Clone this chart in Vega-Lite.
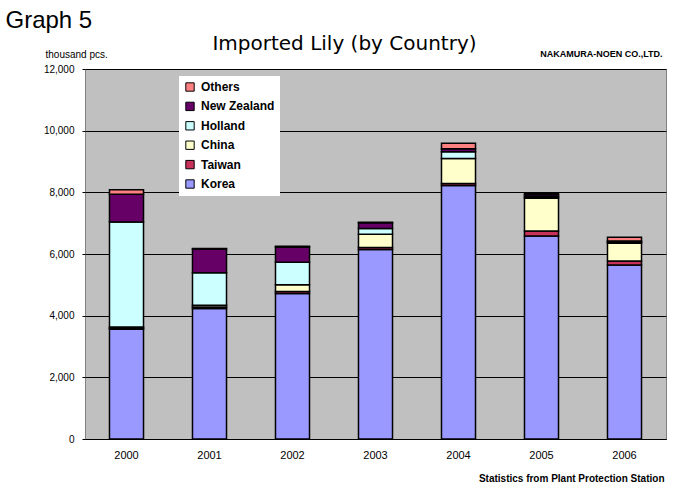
{
  "$schema": "https://vega.github.io/schema/vega-lite/v6.json",
  "width": 581,
  "height": 370,
  "autosize": {"type": "none"},
  "padding": {"left": 85, "top": 69, "right": 34, "bottom": 57},
  "background": "white",
  "config": {
    "font": "Liberation Sans",
    "view": {"fill": "#c0c0c0", "stroke": "#808080", "strokeWidth": 1}
  },
  "title": {
    "text": "Imported Lily (by Country)",
    "anchor": "middle",
    "frame": "group",
    "dx": -31,
    "dy": 62,
    "offset": 16,
    "font": "DejaVu Sans",
    "fontSize": 20,
    "fontWeight": "normal",
    "color": "black"
  },
  "data": {
    "values": [
      {"year": "2000", "country": "Korea", "rank": 1, "value": 3560},
      {"year": "2000", "country": "Taiwan", "rank": 2, "value": 30},
      {"year": "2000", "country": "China", "rank": 3, "value": 40},
      {"year": "2000", "country": "Holland", "rank": 4, "value": 3410},
      {"year": "2000", "country": "New Zealand", "rank": 5, "value": 900},
      {"year": "2000", "country": "Others", "rank": 6, "value": 140},
      {"year": "2001", "country": "Korea", "rank": 1, "value": 4230},
      {"year": "2001", "country": "Taiwan", "rank": 2, "value": 50},
      {"year": "2001", "country": "China", "rank": 3, "value": 60},
      {"year": "2001", "country": "Holland", "rank": 4, "value": 1050},
      {"year": "2001", "country": "New Zealand", "rank": 5, "value": 770},
      {"year": "2001", "country": "Others", "rank": 6, "value": 20},
      {"year": "2002", "country": "Korea", "rank": 1, "value": 4720},
      {"year": "2002", "country": "Taiwan", "rank": 2, "value": 60},
      {"year": "2002", "country": "China", "rank": 3, "value": 220},
      {"year": "2002", "country": "Holland", "rank": 4, "value": 730},
      {"year": "2002", "country": "New Zealand", "rank": 5, "value": 500},
      {"year": "2002", "country": "Others", "rank": 6, "value": 20},
      {"year": "2003", "country": "Korea", "rank": 1, "value": 6150},
      {"year": "2003", "country": "Taiwan", "rank": 2, "value": 60},
      {"year": "2003", "country": "China", "rank": 3, "value": 430},
      {"year": "2003", "country": "Holland", "rank": 4, "value": 190},
      {"year": "2003", "country": "New Zealand", "rank": 5, "value": 180},
      {"year": "2003", "country": "Others", "rank": 6, "value": 20},
      {"year": "2004", "country": "Korea", "rank": 1, "value": 8220},
      {"year": "2004", "country": "Taiwan", "rank": 2, "value": 70},
      {"year": "2004", "country": "China", "rank": 3, "value": 810},
      {"year": "2004", "country": "Holland", "rank": 4, "value": 220},
      {"year": "2004", "country": "New Zealand", "rank": 5, "value": 90},
      {"year": "2004", "country": "Others", "rank": 6, "value": 180},
      {"year": "2005", "country": "Korea", "rank": 1, "value": 6580},
      {"year": "2005", "country": "Taiwan", "rank": 2, "value": 170},
      {"year": "2005", "country": "China", "rank": 3, "value": 1060},
      {"year": "2005", "country": "Holland", "rank": 4, "value": 50},
      {"year": "2005", "country": "New Zealand", "rank": 5, "value": 60},
      {"year": "2005", "country": "Others", "rank": 6, "value": 50},
      {"year": "2006", "country": "Korea", "rank": 1, "value": 5640},
      {"year": "2006", "country": "Taiwan", "rank": 2, "value": 130},
      {"year": "2006", "country": "China", "rank": 3, "value": 580},
      {"year": "2006", "country": "Holland", "rank": 4, "value": 30},
      {"year": "2006", "country": "New Zealand", "rank": 5, "value": 40},
      {"year": "2006", "country": "Others", "rank": 6, "value": 120}
    ]
  },
  "layer": [
    {
      "mark": {"type": "bar", "stroke": "black", "strokeWidth": 1.5},
      "encoding": {
        "x": {
          "field": "year",
          "type": "nominal",
          "scale": {"paddingInner": 0.59, "paddingOuter": 0.295},
          "axis": {
            "orient": "bottom",
            "labelAngle": 0,
            "labelFontSize": 11,
            "labelColor": "black",
            "labelPadding": 14,
            "bandPosition": 0,
            "tickSize": -4,
            "tickColor": "black",
            "domainColor": "black",
            "title": "Statistics from Plant Protection Station",
            "titleFontSize": 10,
            "titleFontWeight": "bold",
            "titleColor": "black",
            "titleAlign": "right",
            "titleAnchor": null,
            "titleX": 579,
            "titleY": 42,
            "titleBaseline": "alphabetic"
          }
        },
        "y": {
          "field": "value",
          "type": "quantitative",
          "stack": "zero",
          "scale": {"domain": [0, 12000], "nice": false},
          "axis": {
            "values": [0, 2000, 4000, 6000, 8000, 10000, 12000],
            "format": ",d",
            "labelFontSize": 10,
            "labelColor": "black",
            "labelPadding": 8,
            "ticks": true,
            "tickSize": 3,
            "tickColor": "black",
            "domain": false,
            "grid": true,
            "gridColor": "black",
            "gridWidth": 1,
            "title": "thousand pcs.",
            "titleAngle": 0,
            "titleAlign": "left",
            "titleBaseline": "alphabetic",
            "titleX": -40,
            "titleY": -12,
            "titleFontSize": 10,
            "titleFontWeight": "normal",
            "titleColor": "black"
          }
        },
        "color": {
          "field": "country",
          "type": "nominal",
          "scale": {
            "domain": ["Others", "New Zealand", "Holland", "China", "Taiwan", "Korea"],
            "range": ["#ff8080", "#660066", "#ccffff", "#ffffcc", "#c8305a", "#9999ff"]
          },
          "legend": {
            "orient": "none",
            "legendX": 94,
            "legendY": 7,
            "title": null,
            "fillColor": "white",
            "padding": 5,
            "symbolType": "square",
            "symbolSize": 70,
            "symbolStrokeColor": "black",
            "symbolStrokeWidth": 1,
            "labelFontSize": 12,
            "labelFontWeight": "bold",
            "labelColor": "black",
            "rowPadding": 5.4,
            "labelOffset": 5
          }
        },
        "order": {"field": "rank", "type": "quantitative", "sort": "ascending"}
      }
    },
    {
      "mark": {"type": "point", "opacity": 0},
      "encoding": {
        "x": {
          "field": "year",
          "type": "nominal",
          "axis": {
            "orient": "top",
            "labels": false,
            "ticks": false,
            "domain": false,
            "title": "NAKAMURA-NOEN CO.,LTD.",
            "titleFontSize": 9,
            "titleFontWeight": "bold",
            "titleColor": "black",
            "titleAlign": "right",
            "titleAnchor": null,
            "titleX": 577,
            "titleY": -13,
            "titleBaseline": "alphabetic"
          }
        },
        "y": {
          "field": "value",
          "type": "quantitative",
          "axis": {
            "orient": "right",
            "labels": false,
            "ticks": false,
            "domain": false,
            "grid": false,
            "title": "Graph 5",
            "titleAngle": 0,
            "titleAlign": "left",
            "titleBaseline": "alphabetic",
            "titleX": -661,
            "titleY": -42,
            "titleFontSize": 24,
            "titleFontWeight": "normal",
            "titleColor": "black"
          }
        }
      }
    }
  ],
  "resolve": {"axis": {"x": "independent", "y": "independent"}}
}
